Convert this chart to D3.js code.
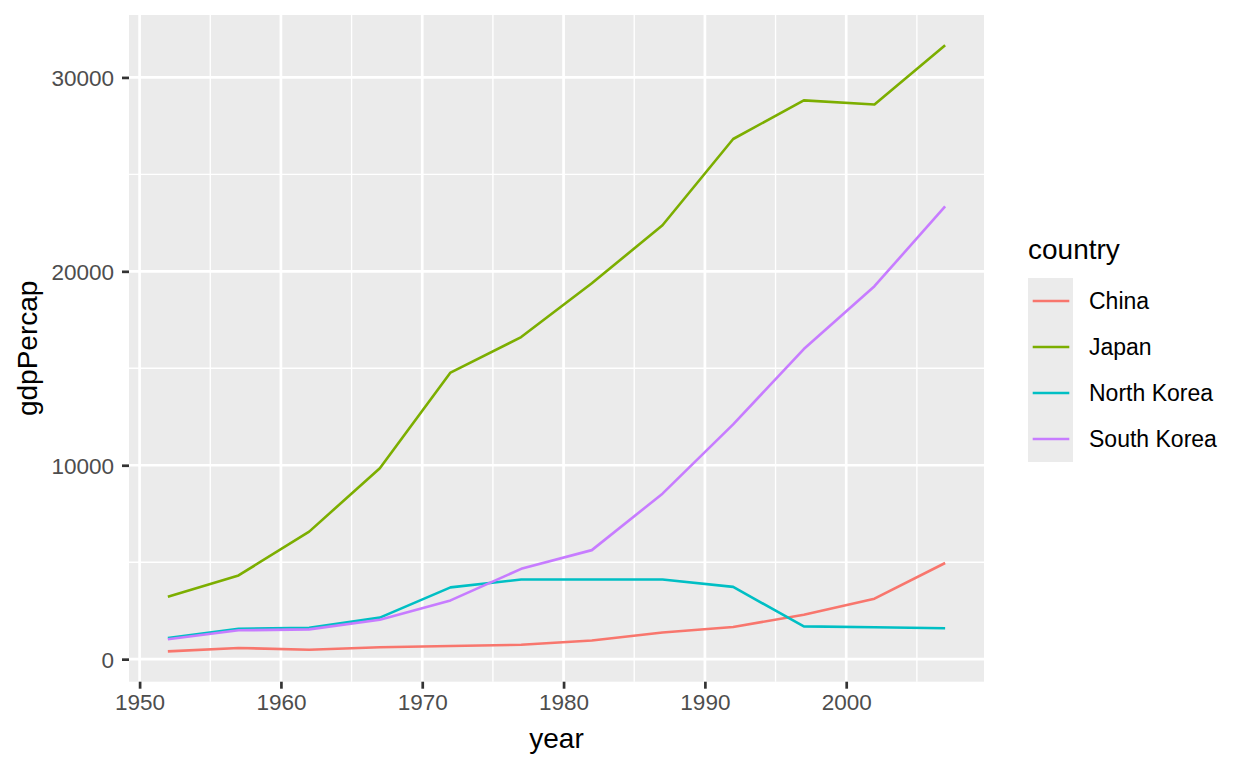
<!DOCTYPE html>
<html><head><meta charset="utf-8">
<script src="https://cdn.jsdelivr.net/npm/d3@7"></script>
<style>body{margin:0;background:#fff}svg{display:block}text{font-family:"Liberation Sans",Arial,sans-serif}</style>
</head><body>
<script>
const years = [1952,1957,1962,1967,1972,1977,1982,1987,1992,1997,2002,2007];
const countries = ["China","Japan","North Korea","South Korea"];
const china = [400.45,575.99,487.67,612.71,676.90,741.24,962.42,1378.90,1655.78,2289.23,3119.28,4959.11];
const japan = [3216.96,4317.69,6576.65,9847.79,14778.79,16610.38,19384.11,22375.94,26824.90,28816.58,28604.59,31656.07];
const northKorea = [1088.28,1571.13,1621.69,2143.54,3701.62,4106.30,4106.53,4106.49,3726.06,1690.76,1646.76,1593.07];
const southKorea = [1030.59,1487.59,1536.34,2029.23,3030.88,4657.22,5622.94,8533.09,12104.28,15993.53,19233.99,23348.14];
const xTicks = [1950,1960,1970,1980,1990,2000];
const xMinor = [1955,1965,1975,1985,1995,2005];
const yTicks = [0,10000,20000,30000];
const yMinor = [5000,15000,25000];
const colors = ["#F8766D","#7CAE00","#00BFC4","#C77CFF"];

const seriesVals = [china, japan, northKorea, southKorea];
const W=1248,H=768;
const svg=d3.select("body").append("svg").attr("width",W).attr("height",H);
const pL=129,pR=984,pT=15,pB=681.7;
const xr=[1952,2007], xe=(xr[1]-xr[0])*0.05;
const x=d3.scaleLinear().domain([xr[0]-xe,xr[1]+xe]).range([pL,pR]);
const allV=seriesVals.flat(); const ymin=d3.min(allV), ymax=d3.max(allV), ye=(ymax-ymin)*0.05;
const y=d3.scaleLinear().domain([ymin-ye,ymax+ye]).range([pB,pT]);

svg.append("rect").attr("x",pL).attr("y",pT).attr("width",pR-pL).attr("height",pB-pT).attr("fill","#EBEBEB");
const g=svg.append("g");
g.selectAll(".xm").data(xMinor).join("line").attr("x1",d=>x(d)).attr("x2",d=>x(d)).attr("y1",pT).attr("y2",pB).attr("stroke","#fff").attr("stroke-width",1.35);
g.selectAll(".ym").data(yMinor).join("line").attr("y1",d=>y(d)).attr("y2",d=>y(d)).attr("x1",pL).attr("x2",pR).attr("stroke","#fff").attr("stroke-width",1.35);
g.selectAll(".xM").data(xTicks).join("line").attr("x1",d=>x(d)).attr("x2",d=>x(d)).attr("y1",pT).attr("y2",pB).attr("stroke","#fff").attr("stroke-width",2.7);
g.selectAll(".yM").data(yTicks).join("line").attr("y1",d=>y(d)).attr("y2",d=>y(d)).attr("x1",pL).attr("x2",pR).attr("stroke","#fff").attr("stroke-width",2.7);

const line=d3.line().x((d,i)=>x(years[i])).y(d=>y(d));
seriesVals.forEach((s,k)=>{
  svg.append("path").datum(s).attr("d",line).attr("fill","none").attr("stroke",colors[k]).attr("stroke-width",2.6).attr("stroke-linejoin","round");
});

// axes
const xa=svg.append("g").attr("transform",`translate(0,${pB})`).call(d3.axisBottom(x).tickValues(xTicks).tickFormat(d3.format("d")).tickSize(7).tickPadding(5));
const ya=svg.append("g").attr("transform",`translate(${pL},0)`).call(d3.axisLeft(y).tickValues(yTicks).tickFormat(d3.format("d")).tickSize(7).tickPadding(8));
[xa,ya].forEach(a=>{a.select(".domain").remove();a.selectAll(".tick line").attr("stroke","#333").attr("stroke-width",2.7);
  a.selectAll(".tick text").attr("fill","#4D4D4D").style("font-size","22.5px").style("font-family","'Liberation Sans',Arial,sans-serif");});
xa.selectAll(".tick text").attr("dy","0.71em");
ya.selectAll(".tick text").attr("dy","0.35em");

svg.append("text").attr("x",(pL+pR)/2).attr("y",748).attr("text-anchor","middle").style("font-size","28px").text("year");
svg.append("text").attr("transform",`translate(37,${(pT+pB)/2}) rotate(-90)`).attr("text-anchor","middle").style("font-size","28px").text("gdpPercap");

// legend
const lg=svg.append("g");
lg.append("text").attr("x",1028).attr("y",259).style("font-size","28px").text("country");
lg.append("rect").attr("x",1028).attr("y",278).attr("width",45).attr("height",184).attr("fill","#EBEBEB");
countries.forEach((c,i)=>{
  const cy=278+23+46*i;
  lg.append("line").attr("x1",1032.7).attr("x2",1069.3).attr("y1",cy).attr("y2",cy).attr("stroke",colors[i]).attr("stroke-width",2.6);
  lg.append("text").attr("x",1089).attr("y",cy).attr("dy","0.35em").style("font-size","23px").text(c);
});
</script>
</body></html>
